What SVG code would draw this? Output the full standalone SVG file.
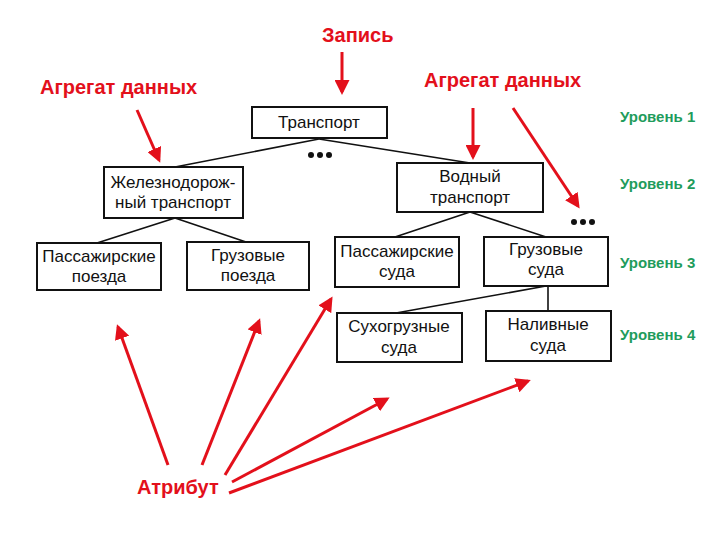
<svg xmlns="http://www.w3.org/2000/svg" width="720" height="540" viewBox="0 0 720 540">
<defs>
<style>
.box{fill:#fff;stroke:#111;stroke-width:2}
.t{font-family:"Liberation Sans",Arial,sans-serif;font-size:17px;fill:#111;text-anchor:middle}
.red{font-family:"Liberation Sans",Arial,sans-serif;font-size:20px;font-weight:bold;fill:#e3101b}
.grn{font-family:"Liberation Sans",Arial,sans-serif;font-size:15px;font-weight:bold;fill:#1f9c5c}
.ln{stroke:#111;stroke-width:1.6;fill:none}
.ar{stroke:#e3101b;stroke-width:3;fill:none;marker-end:url(#ah)}
.dot{fill:#111}
</style>
<marker id="ah" viewBox="0 0 10 10" refX="8" refY="5" markerWidth="5" markerHeight="5" orient="auto" markerUnits="strokeWidth">
<path d="M0,0 L10,5 L0,10 z" fill="#e3101b"/>
</marker>
</defs>
<rect width="720" height="540" fill="#fff"/>

<g id="connectors">
<path class="ln" d="M319,139 L175,167"/>
<path class="ln" d="M319,139 L470,163"/>
<path class="ln" d="M175,218 L97,243"/>
<path class="ln" d="M175,218 L246,242"/>
<path class="ln" d="M470,212 L395,237"/>
<path class="ln" d="M470,212 L546,237"/>
<path class="ln" d="M546,286 L396,313"/>
<path class="ln" d="M548,286 L548,311"/>
</g>

<g id="n-transport"><rect class="box" x="252" y="107" width="135" height="31"/><text class="t" x="319" y="128">Транспорт</text></g>
<g id="dots1"><circle class="dot" cx="311" cy="155" r="3"/><circle class="dot" cx="320" cy="155" r="3"/><circle class="dot" cx="329" cy="155" r="3"/></g>
<g id="n-rail"><rect class="box" x="104" y="167" width="139" height="51"/><text class="t" x="173" y="188">Железнодорож-</text><text class="t" x="173" y="208">ный транспорт</text></g>
<g id="n-water"><rect class="box" x="397" y="163" width="146" height="49"/><text class="t" x="470" y="182">Водный</text><text class="t" x="470" y="203">транспорт</text></g>
<g id="dots2"><circle class="dot" cx="574" cy="222" r="3"/><circle class="dot" cx="583" cy="222" r="3"/><circle class="dot" cx="592" cy="222" r="3"/></g>
<g id="n-passtrain"><rect class="box" x="37" y="243" width="124" height="47"/><text class="t" x="99" y="262">Пассажирские</text><text class="t" x="99" y="282">поезда</text></g>
<g id="n-cargotrain"><rect class="box" x="187" y="242" width="122" height="48"/><text class="t" x="248" y="261">Грузовые</text><text class="t" x="248" y="281">поезда</text></g>
<g id="n-passship"><rect class="box" x="335" y="237" width="124" height="50"/><text class="t" x="397" y="257">Пассажирские</text><text class="t" x="397" y="277">суда</text></g>
<g id="n-cargoship"><rect class="box" x="484" y="237" width="124" height="49"/><text class="t" x="546" y="255">Грузовые</text><text class="t" x="546" y="275">суда</text></g>
<g id="n-dry"><rect class="box" x="337" y="313" width="125" height="49"/><text class="t" x="399" y="332">Сухогрузные</text><text class="t" x="399" y="353">суда</text></g>
<g id="n-liquid"><rect class="box" x="486" y="311" width="125" height="50"/><text class="t" x="548" y="330">Наливные</text><text class="t" x="548" y="351">суда</text></g>

<g id="annotations">
<text class="red" x="322" y="42">Запись</text>
<text class="red" x="40" y="94">Агрегат данных</text>
<text class="red" x="424" y="87">Агрегат данных</text>
<text class="red" x="137" y="494">Атрибут</text>
<text class="grn" x="620" y="122">Уровень 1</text>
<text class="grn" x="620" y="189">Уровень 2</text>
<text class="grn" x="620" y="268">Уровень 3</text>
<text class="grn" x="620" y="340">Уровень 4</text>
</g>

<g id="red-arrows">
<path class="ar" d="M342,52 L342,92"/>
<path class="ar" d="M137,110 L159,160"/>
<path class="ar" d="M473,108 L473,157"/>
<path class="ar" d="M513,108 L578,206"/>
<path class="ar" d="M168,465 L118,327"/>
<path class="ar" d="M202,465 L259,321"/>
<path class="ar" d="M225,475 L331,299"/>
<path class="ar" d="M232,482 L387,399"/>
<path class="ar" d="M229,493 L528,381"/>
</g>
</svg>
